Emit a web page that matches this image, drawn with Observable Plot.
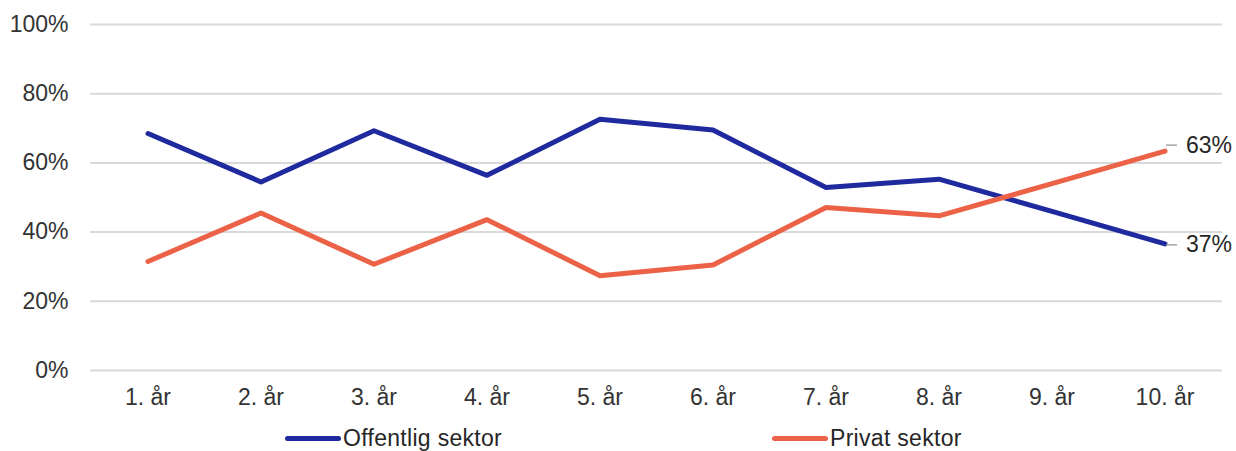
<!DOCTYPE html>
<html>
<head>
<meta charset="utf-8">
<script src="https://cdn.jsdelivr.net/npm/d3@7"></script>
<script src="https://cdn.jsdelivr.net/npm/@observablehq/plot@0.6"></script>
<style>
  html, body { margin: 0; padding: 0; background: #fff; overflow: hidden; }
  body { width: 1236px; height: 451px; font-family: "Liberation Sans", Arial, sans-serif; }
  #chart svg { display: block; }
  #legend { position: relative; height: 31px; font-size: 23px; color: #262626; }
  .item { position: absolute; top: 5px; display: flex; align-items: center; white-space: nowrap; letter-spacing: 0.3px; }
  .sw { width: 56px; height: 5px; border-radius: 3px; margin-right: 2px; }
</style>
</head>
<body>
<div id="chart"></div>
<div id="legend"></div>
<script>
const years = ["1. år","2. år","3. år","4. år","5. år","6. år","7. år","8. år","9. år","10. år"];
const offentlig = [68.5, 54.5, 69.3, 56.4, 72.6, 69.5, 52.9, 55.3, 46.0, 36.6];
const privat    = [31.5, 45.5, 30.7, 43.6, 27.4, 30.5, 47.1, 44.7, 54.0, 63.4];
const seriesNames = ["Offentlig sektor", "Privat sektor"];
const yTicks = [0, 20, 40, 60, 80, 100];

const colors = ["#1f2a9e", "#ec6246"];

const data = [];
years.forEach((y, i) => {
  data.push({year: y, series: seriesNames[0], value: offentlig[i]});
  data.push({year: y, series: seriesNames[1], value: privat[i]});
});
const last = years[years.length - 1];
const endData = data.filter(d => d.year === last);
const labelDy = {"Offentlig sektor": 1, "Privat sektor": -6};

const chart = Plot.plot({
  width: 1236,
  height: 420,
  marginLeft: 90,
  marginRight: 14,
  marginTop: 24,
  marginBottom: 50,
  style: {fontFamily: "Liberation Sans, Arial, sans-serif", fontSize: "23px", color: "#333333", background: "#fff"},
  x: {type: "band", domain: years, padding: 0, label: null, tickSize: 0, tickPadding: 18},
  y: {domain: [0, 100], ticks: yTicks, tickFormat: d => d + "%", label: null, tickSize: 0, tickPadding: 22},
  color: {domain: seriesNames, range: colors},
  marks: [
    Plot.ruleY(yTicks, {stroke: "#d9d9d9", strokeWidth: 2}),
    Plot.line(data, {x: "year", y: "value", z: "series", stroke: "series", strokeWidth: 5, strokeLinejoin: "round", strokeLinecap: "round"}),
    ...endData.map(d => Plot.tickY([d], {x: "year", y: "value", dy: labelDy[d.series], stroke: "#a6a6a6", strokeWidth: 1.5, insetLeft: 58, insetRight: 44})),
    ...endData.map(d => Plot.text([d], {x: "year", y: "value", dy: labelDy[d.series], dx: 21, text: v => Math.round(v.value) + "%", textAnchor: "start", fill: "#262626", fontSize: 23}))
  ]
});
document.getElementById("chart").appendChild(chart);

const legend = document.getElementById("legend");
const lx = [285, 772];
seriesNames.forEach((name, i) => {
  const it = document.createElement("div");
  it.className = "item";
  it.style.left = lx[i] + "px";
  it.innerHTML = `<span class="sw" style="background:${colors[i]}"></span><span>${name}</span>`;
  legend.appendChild(it);
});
</script>
</body>
</html>
